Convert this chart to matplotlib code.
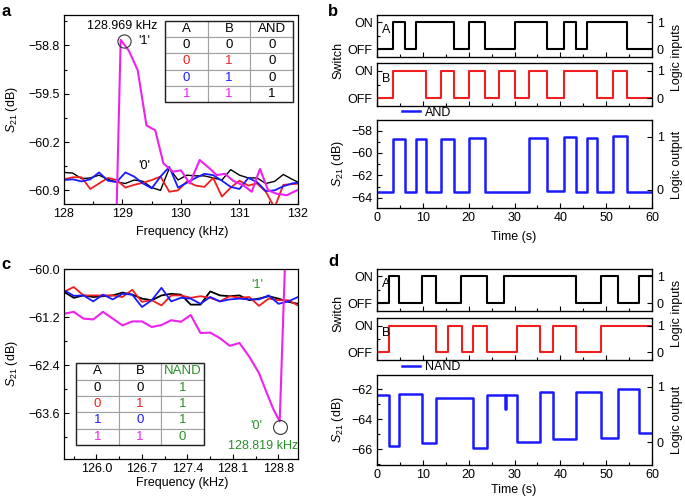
import matplotlib
matplotlib.use('Agg')
import matplotlib.pyplot as plt
from matplotlib.ticker import AutoMinorLocator
from matplotlib.patches import Rectangle

plt.rcParams['font.family'] = ['Liberation Sans', 'DejaVu Sans']
plt.rcParams['font.size'] = 9
plt.rcParams['mathtext.fontset'] = 'custom'
plt.rcParams['mathtext.rm'] = 'Liberation Sans'
plt.rcParams['mathtext.it'] = 'Liberation Sans:italic'

BLACK = '#000000'
RED = '#f01e1e'
BLUE = '#1a1aff'
MAGENTA = '#ee22ee'
GREEN = '#2a8f2a'

# ---- panel a: AND spectra ----
freq_a = [128.00, 128.15, 128.30, 128.45, 128.60, 128.75, 128.90, 129.05, 129.20, 129.35,
          129.50, 129.65, 129.80, 129.95, 130.10, 130.25, 130.40, 130.55, 130.70, 130.85,
          131.00, 131.15, 131.30, 131.45, 131.60, 131.75, 131.90, 132.05]
black_a = [-60.64, -60.65, -60.73, -60.72, -60.68, -60.74, -60.78, -60.80, -60.75, -60.77,
           -60.86, -60.90, -60.58, -60.75, -60.68, -60.69, -60.69, -60.72, -60.75, -60.60,
           -60.68, -60.72, -60.72, -60.80, -60.77, -60.67, -60.74, -60.80]
red_a = [-60.74, -60.71, -60.71, -60.88, -60.80, -60.72, -60.75, -60.86, -60.82, -60.79,
         -60.75, -60.70, -60.92, -60.90, -60.77, -60.83, -60.85, -60.72, -60.99, -60.86,
         -60.76, -60.83, -60.80, -60.92, -61.15, -60.82, -60.81, -60.80]
blue_a = [-60.75, -60.74, -60.77, -60.74, -60.64, -60.76, -60.78, -60.64, -60.70, -60.80,
          -60.87, -60.70, -60.56, -60.86, -60.79, -60.72, -60.66, -60.68, -60.76, -60.85,
          -60.88, -60.72, -60.78, -60.91, -60.90, -60.84, -60.80, -60.78]
mag_freq_a = [128.82, 128.969, 129.11, 129.26, 129.41, 129.56, 129.70, 129.86, 130.00, 130.15,
              130.32, 130.50, 130.61, 130.75, 130.89, 131.07, 131.21, 131.35, 131.49, 131.64,
              131.81, 131.98, 132.10]
mag_a = [-64.0, -58.72, -58.88, -59.16, -59.96, -60.03, -60.51, -60.63, -60.61, -60.80,
         -60.46, -60.59, -60.68, -60.66, -60.76, -60.83, -60.92, -60.59, -60.90, -60.95,
         -60.97, -60.90, -60.88]

table_a = [['A', 'B', 'AND'], ['0', '0', '0'], ['0', '1', '0'], ['0', '1', '0'], ['1', '1', '1']]
table_a_colors = [[BLACK] * 3, [BLACK] * 3, [RED, RED, BLACK], [BLUE, BLUE, BLACK],
                  [MAGENTA, MAGENTA, BLACK]]

# ---- panel c: NAND spectra ----
freq_c = [125.50, 125.65, 125.80, 125.95, 126.10, 126.25, 126.40, 126.55, 126.70, 126.85,
          127.00, 127.15, 127.30, 127.45, 127.60, 127.75, 127.90, 128.05, 128.20, 128.35,
          128.50, 128.65, 128.80, 128.95, 129.10]
black_c = [-60.57, -60.72, -60.66, -60.70, -60.68, -60.66, -60.59, -60.64, -60.74, -60.78,
           -60.66, -60.62, -60.64, -60.89, -60.89, -60.56, -60.66, -60.68, -60.66, -60.78,
           -60.74, -60.68, -60.74, -60.82, -60.87]
red_c = [-60.57, -60.45, -60.66, -60.66, -60.66, -60.66, -60.70, -60.52, -60.82, -60.78,
         -60.91, -60.66, -60.66, -60.72, -60.68, -60.72, -60.81, -60.68, -60.72, -60.70,
         -60.92, -60.74, -60.78, -60.78, -60.91]
blue_c = [-60.53, -60.67, -60.66, -60.81, -60.64, -60.76, -60.62, -60.64, -60.95, -60.78,
          -60.47, -60.81, -60.72, -60.74, -60.87, -60.70, -60.81, -60.76, -60.74, -60.76,
          -60.76, -60.66, -60.87, -60.81, -60.70]
mag_freq_c = [125.50, 125.65, 125.80, 125.95, 126.10, 126.25, 126.40, 126.55, 126.70, 126.85,
              127.00, 127.15, 127.30, 127.45, 127.60, 127.75, 127.90, 128.05, 128.20, 128.35,
              128.50, 128.62, 128.72, 128.819, 128.97]
mag_c = [-61.12, -61.07, -61.24, -61.26, -61.07, -61.24, -61.41, -61.31, -61.31, -61.45,
         -61.40, -61.28, -61.32, -61.15, -61.60, -61.59, -61.73, -61.92, -61.85, -62.19,
         -62.60, -63.10, -63.50, -63.81, -56.50]

table_c = [['A', 'B', 'NAND'], ['0', '0', '1'], ['0', '1', '1'], ['1', '0', '1'], ['1', '1', '0']]
table_c_colors = [[BLACK, BLACK, GREEN], [BLACK, BLACK, GREEN], [RED, RED, GREEN],
                  [BLUE, BLUE, GREEN], [MAGENTA, MAGENTA, GREEN]]

# ---- panel b: AND time traces ----
t_A_b = [0, 3.4, 6.05, 8.4, 16.9, 20.0, 23.5, 30.0, 37.1, 40.7, 43.3, 45.7, 54.6, 60]
s_A_b = [0, 1, 0, 1, 0, 1, 0, 1, 0, 1, 0, 1, 0]
t_B_b = [0, 3.4, 10.6, 14.0, 16.9, 20.0, 23.5, 26.7, 30.0, 33.2, 37.1, 40.7, 47.9, 51.4, 54.6, 60]
s_B_b = [0, 1, 0, 1, 0, 1, 0, 1, 0, 1, 0, 1, 0, 1, 0]
t_and = [0, 3.4, 6.05, 8.4, 10.6, 14.0, 16.9, 20.0, 23.5, 33.2, 37.1, 40.7, 43.3, 45.7,
         47.9, 51.4, 54.6, 60]
s21_and = [-63.5, -58.75, -63.5, -58.72, -63.45, -58.75, -63.45, -58.7, -63.45, -58.65,
           -63.4, -58.6, -63.45, -58.62, -63.45, -58.5, -63.45]

# ---- panel d: NAND time traces ----
t_A_d = [0, 2.6, 4.7, 9.8, 12.8, 18.4, 24.1, 27.7, 43.3, 48.8, 52.5, 57.2, 60]
s_A_d = [0, 1, 0, 1, 0, 1, 0, 1, 0, 1, 0, 1]
t_B_d = [0, 2.6, 12.9, 15.4, 18.6, 21.0, 24.1, 30.5, 35.5, 38.3, 43.3, 48.9, 60]
s_B_d = [0, 1, 0, 1, 0, 1, 0, 1, 0, 1, 0, 1]
t_nand = [0, 2.6, 4.7, 9.8, 12.8, 21.0, 24.1, 27.9, 28.1, 30.5, 35.5, 38.3, 43.3, 48.8,
          52.5, 57.2, 60]
s21_nand = [-62.4, -65.8, -62.3, -65.6, -62.6, -65.9, -62.4, -63.3, -62.4, -65.5, -62.15,
            -65.3, -62.15, -65.25, -62.0, -64.9]


def style(ax):
    ax.tick_params(which='both', direction='in', top=False, right=False, labelsize=9)
    ax.tick_params(which='major', length=3.5, width=0.8, pad=3)
    ax.tick_params(which='minor', length=2, width=0.8)
    for s in ax.spines.values():
        s.set_linewidth(0.9)
    ax.xaxis.set_minor_locator(AutoMinorLocator(2))
    ax.yaxis.set_minor_locator(AutoMinorLocator(2))


def truth_table(ax, rows, colors, bbox):
    tab = ax.table(cellText=rows, cellLoc='center', bbox=bbox)
    tab.auto_set_font_size(False)
    tab.set_fontsize(9.5)
    for (r, c), cell in tab.get_celld().items():
        cell.set_edgecolor('#a0a0a0')
        cell.set_linewidth(0.8)
        cell.get_text().set_color(colors[r][c])
    ax.add_patch(Rectangle((bbox[0], bbox[1]), bbox[2], bbox[3], transform=ax.transAxes,
                           fill=False, ec='#222222', lw=1.0, zorder=20))


def switch_panel(ax, t, s, color, name):
    ax.step(t, s + [s[-1]], where='post', color=color, lw=1.5)
    ax.set_xlim(0, 60)
    ax.set_ylim(-0.28, 1.27)
    style(ax)
    ax.set_yticks([0, 1])
    ax.set_yticklabels(['OFF', 'ON'])
    ax.set_xticks(range(0, 61, 10))
    ax.tick_params(labelbottom=False)
    ax.text(0.035, 0.64, name, transform=ax.transAxes, ha='center', va='center', fontsize=9)
    axr = ax.twinx()
    axr.set_ylim(-0.28, 1.27)
    axr.set_yticks([0, 1])
    axr.tick_params(direction='in', labelsize=9, length=3.5)


def output_panel(ax, t, s21, ylim, yticks, low, high, name, leg_y):
    ax.step(t, s21 + [s21[-1]], where='post', color=BLUE, lw=1.8, label=name)
    ax.set_xlim(0, 60)
    ax.set_ylim(*ylim)
    style(ax)
    ax.set_yticks(yticks)
    ax.set_xticks(range(0, 61, 10))
    ax.legend(loc='center left', bbox_to_anchor=(0.09, leg_y), frameon=False, borderpad=0,
              borderaxespad=0, handlelength=1.45, handletextpad=0.4, fontsize=9)
    axr = ax.twinx()
    axr.set_ylim((ylim[0] - low) / (high - low), (ylim[1] - low) / (high - low))
    axr.set_yticks([0, 1])
    axr.tick_params(direction='in', labelsize=9, length=3.5)


fig = plt.figure(figsize=(6.85, 4.98), dpi=100)

# panel a
ax = fig.add_axes([0.0934, 0.590, 0.3416, 0.380])
ax.plot(freq_a, black_a, color=BLACK, lw=1.0)
ax.plot(freq_a, red_a, color=RED, lw=1.3)
ax.plot(freq_a, blue_a, color=BLUE, lw=1.3)
ax.plot(mag_freq_a, mag_a, color=MAGENTA, lw=1.5)
ax.set_xlim(128, 132)
ax.set_ylim(-61.1, -58.36)
style(ax)
ax.set_xticks([128, 129, 130, 131, 132])
ax.set_yticks([-58.8, -59.5, -60.2, -60.9])
ax.set_yticklabels(['\u221258.8', '\u221259.5', '\u221260.2', '\u221260.9'])
ipk = mag_a.index(max(mag_a))
ax.plot(mag_freq_a[ipk] + 0.05, mag_a[ipk] - 0.02, 'o', mfc='none', mec='#333333', ms=9.5, mew=0.8)
ax.text(129.0, -58.52, '128.969 kHz', ha='center', va='center', fontsize=9)
ax.text(129.38, -58.74, "'1'", ha='center', va='center', fontsize=9)
ax.text(129.37, -60.54, "'0'", ha='center', va='center', fontsize=9)
truth_table(ax, table_a, table_a_colors, [0.432, 0.540, 0.547, 0.428])

# panel c
ax = fig.add_axes([0.0934, 0.0783, 0.3416, 0.3815])
ax.plot(freq_c, black_c, color=BLACK, lw=1.3)
ax.plot(freq_c, red_c, color=RED, lw=1.3)
ax.plot(freq_c, blue_c, color=BLUE, lw=1.3)
ax.plot(mag_freq_c, mag_c, color=MAGENTA, lw=1.5)
ax.set_xlim(125.5, 129.1)
ax.set_ylim(-64.75, -60.0)
style(ax)
ax.set_xticks([126.0, 126.7, 127.4, 128.1, 128.8])
ax.set_xticklabels(['126.0', '126.7', '127.4', '128.1', '128.8'])
ax.set_yticks([-60.0, -61.2, -62.4, -63.6])
ax.set_yticklabels(['\u221260.0', '\u221261.2', '\u221262.4', '\u221263.6'])
imin = mag_c.index(min(mag_c))
ax.plot(mag_freq_c[imin], mag_c[imin] - 0.15, 'o', mfc='none', mec='#333333', ms=10, mew=0.8)
ax.text(128.48, -60.4, "'1'", color=GREEN, ha='center', va='center', fontsize=9)
ax.text(128.46, -63.93, "'0'", color=GREEN, ha='center', va='center', fontsize=9)
ax.text(128.56, -64.43, '128.819 kHz', color=GREEN, ha='center', va='center', fontsize=9)
truth_table(ax, table_c, table_c_colors, [0.051, 0.074, 0.547, 0.430])

# panel b
switch_panel(fig.add_axes([0.5504, 0.8861, 0.4015, 0.0837]), t_A_b, s_A_b, BLACK, 'A')
switch_panel(fig.add_axes([0.5504, 0.7871, 0.4015, 0.0857]), t_B_b, s_B_b, RED, 'B')
output_panel(fig.add_axes([0.5504, 0.5817, 0.4015, 0.1773]), t_and, s21_and,
             (-64.95, -57.05), [-58, -60, -62, -64], -63.31, -58.54, 'AND', 1.085)

# panel d
switch_panel(fig.add_axes([0.5504, 0.3755, 0.4015, 0.0843]), t_A_d, s_A_d, BLACK, 'A')
switch_panel(fig.add_axes([0.5504, 0.2771, 0.4015, 0.0837]), t_B_d, s_B_d, RED, 'B')
output_panel(fig.add_axes([0.5504, 0.0663, 0.4015, 0.1807]), t_nand, s21_nand,
             (-67.07, -61.04), [-62, -64, -66], -65.56, -61.82, 'NAND', 1.09)

# axis labels
W, H = 685.0, 498.0
def ftext(x, y, s, **kw):
    fig.text(x / W, 1 - y / H, s, ha='center', va='center', fontsize=9, **kw)

ftext(182, 232, 'Frequency (kHz)')
ftext(182, 483, 'Frequency (kHz)')
ftext(12, 110, r'$S_{21}$ (dB)', rotation=90)
ftext(12, 364, r'$S_{21}$ (dB)', rotation=90)
ftext(514, 237, 'Time (s)')
ftext(514, 490, 'Time (s)')
ftext(338, 60, 'Switch', rotation=90)
ftext(338, 313, 'Switch', rotation=90)
ftext(338, 164, r'$S_{21}$ (dB)', rotation=90)
ftext(338, 420, r'$S_{21}$ (dB)', rotation=90)
ftext(677, 57, 'Logic inputs', rotation=90)
ftext(677, 313, 'Logic inputs', rotation=90)
ftext(677, 165, 'Logic output', rotation=90)
ftext(677, 420, 'Logic output', rotation=90)

for x, y, s in [(6, 12, 'a'), (333, 11, 'b'), (6, 264, 'c'), (333, 262, 'd')]:
    fig.text(x / W, 1 - y / H, s, ha='center', va='center', fontsize=12, fontweight='bold')

fig.savefig('out.png', dpi=100)
